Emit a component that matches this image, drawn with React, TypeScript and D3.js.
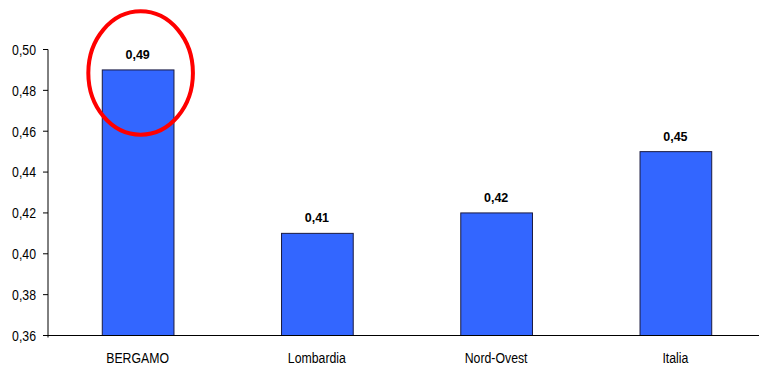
import React from "react";
import * as d3 from "d3";

const categories = ["BERGAMO", "Lombardia", "Nord-Ovest", "Italia"];
const values = [0.49, 0.41, 0.42, 0.45];
const yTicks = [0.36, 0.38, 0.4, 0.42, 0.44, 0.46, 0.48, 0.5];

const W = 759;
const H = 365;
const fmt = (v: number) => v.toFixed(2).replace(".", ",");

export default function App() {
  const x = d3.scaleBand<string>().domain(categories).range([48, 765]).paddingInner(0.6).paddingOuter(0.3);
  const y = d3.scaleLinear().domain([0.36, 0.5]).range([335.5, 49.5]);
  const narrow = "Liberation Sans, Arial, sans-serif";
  const hl = x(categories[0])! + x.bandwidth() / 2;
  return (
    <svg width={W} height={H} style={{ position: "absolute", left: 0, top: 0, background: "#fff" }}>
      {/* y axis */}
      <line x1={48} x2={48} y1={y(0.5)} y2={y(0.36) + 2} stroke="#000" strokeWidth={1} />
      {yTicks.map((t) => (
        <g key={t}>
          <line x1={43} x2={48} y1={y(t)} y2={y(t)} stroke="#000" strokeWidth={1} />
          <g transform={`translate(36,${y(t)}) scale(0.82,1)`}>
            <text textAnchor="end" dy="0.36em" fontFamily={narrow} fontSize={15} fill="#000">
              {fmt(t)}
            </text>
          </g>
        </g>
      ))}
      {/* bars */}
      {categories.map((c, i) => (
        <g key={c}>
          <rect
            x={x(c)! + 0.5}
            y={y(values[i])}
            width={x.bandwidth()}
            height={y(0.36) - y(values[i])}
            fill="#3366FF"
            stroke="#1a1a40"
            strokeWidth={1}
          />
          <text
            x={x(c)! + x.bandwidth() / 2}
            y={y(values[i]) - 11}
            textAnchor="middle"
            fontFamily={narrow}
            fontWeight="bold"
            fontSize={12.5}
            fill="#000"
          >
            {fmt(values[i])}
          </text>
          <g transform={`translate(${x(c)! + x.bandwidth() / 2},363) scale(0.82,1)`}>
            <text textAnchor="middle" fontFamily={narrow} fontSize={15} fill="#000">
              {c}
            </text>
          </g>
        </g>
      ))}
      {/* x axis */}
      <line x1={48} x2={W} y1={y(0.36)} y2={y(0.36)} stroke="#000" strokeWidth={1} />
      {/* highlight ellipse */}
      <ellipse cx={hl + 3} cy={73} rx={52.3} ry={61.7} fill="none" stroke="#ff0000" strokeWidth={4} />
    </svg>
  );
}
